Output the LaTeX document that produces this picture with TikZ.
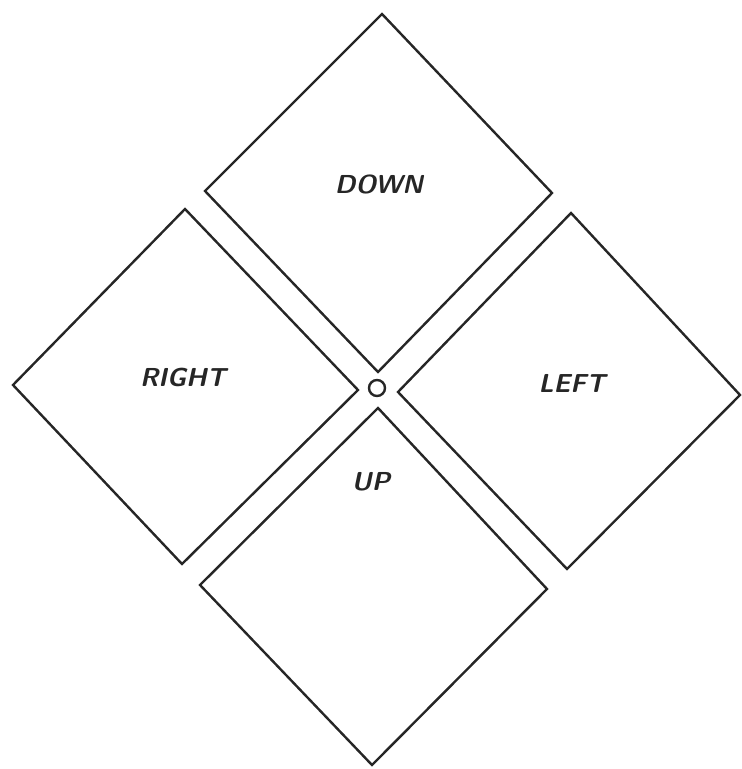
\documentclass[tikz,border=0pt]{standalone}
\usepackage{tikz}
\usetikzlibrary{positioning}

\begin{document}
\begin{tikzpicture}[
  x=0.5pt, y=-0.5pt,
  tile/.style={draw=black!85, line width=1.2pt, line join=miter},
  word/.style={font=\sffamily\bfseries\slshape\fontsize{13}{15}\selectfont, text=black!85},
  hub/.style={circle, draw=black!85, line width=1.2pt, minimum size=8pt, inner sep=0pt}
]
  \useasboundingbox (0,0) rectangle (742,769);

  % ── Four tilted squares ───────────────────────────────────────
  \draw[tile] (382,14) -- (552,193) -- (378,372) -- (205,191) -- cycle;  % down
  \draw[tile] (185,209) -- (358,390) -- (182,564) -- (13,385) -- cycle;  % right
  \draw[tile] (571,213) -- (740,395) -- (567,569) -- (398,392) -- cycle; % left
  \draw[tile] (378,408) -- (547,589) -- (372,765) -- (200,585) -- cycle; % up

  % ── Labels ────────────────────────────────────────────────────
  \node[word] (down)  at (379,184) {DOWN};
  \node[word] (right) at (183,377) {RIGHT};
  \node[word] (left)  at (572,383) {LEFT};
  \node[word] (up)    at (371,482) {UP};

  % ── Centre ring ───────────────────────────────────────────────
  \node[hub] (hub) at (377,388) {};

\end{tikzpicture}
\end{document}
